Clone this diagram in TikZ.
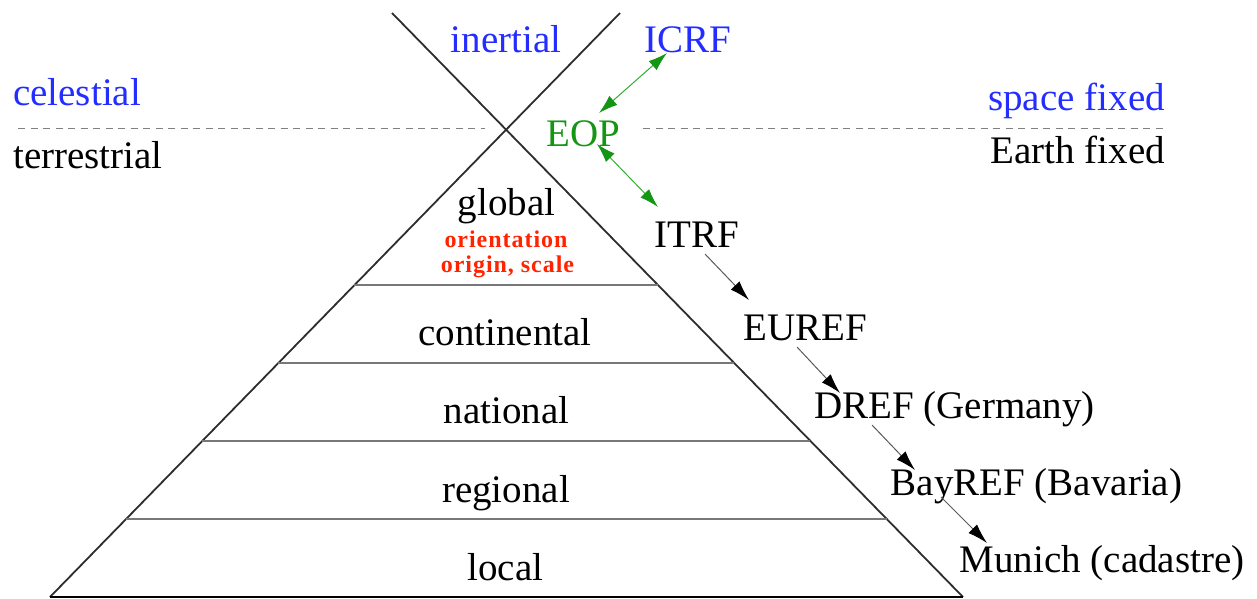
\documentclass[tikz,border=0pt]{standalone}
\usepackage{fontspec}
\setmainfont{Liberation Serif}
\newfontfamily\redfont[LetterSpace=4]{Liberation Serif}
\usetikzlibrary{arrows.meta,calc}
\definecolor{blueT}{RGB}{35,45,255}
\definecolor{greenT}{RGB}{20,150,20}
\definecolor{greenA}{RGB}{50,175,50}
\definecolor{redT}{RGB}{255,35,0}
\definecolor{edge}{RGB}{45,45,45}
\definecolor{divider}{RGB}{120,120,120}
\begin{document}
\begin{tikzpicture}[x=1pt,y=-1pt,
  lbl/.style={anchor=base,inner sep=0pt,font=\fontsize{39}{47}\selectfont},
  bluelbl/.style={lbl,text=blueT},
  redlbl/.style={anchor=base,inner sep=0pt,text=redT,font=\fontsize{24}{27}\redfont\bfseries},
  pedge/.style={draw=edge,line width=1.8pt},
  divline/.style={draw=divider,line width=1.3pt},
  sepline/.style={draw=gray,line width=0.9pt,dash pattern=on 7pt off 5.5pt},
  blkarrow/.style={draw=black!65,line width=1pt,-{Latex[length=20pt,width=12pt,black]}},
  grnarrow/.style={draw=greenA,line width=1pt,{Latex[length=19pt,width=12pt,greenT]}-{Latex[length=19pt,width=12pt,greenT]}}]
\useasboundingbox (0,0) rectangle (1257,598);
% pyramid / cross lines
\coordinate (tl) at (392,13);
\coordinate (tr) at (620,13);
\coordinate (bl) at (50,597);
\coordinate (br) at (963,597);
\draw[pedge] (tr) -- (bl);
\draw[pedge] (tl) -- (br);
\draw[draw=black,line width=2pt] (bl) -- (br);
\draw[divline] ($(tr)!0.4658!(bl)$) -- ($(tl)!0.4658!(br)$);
\draw[divline] ($(tr)!0.5993!(bl)$) -- ($(tl)!0.5993!(br)$);
\draw[divline] ($(tr)!0.7329!(bl)$) -- ($(tl)!0.7329!(br)$);
\draw[divline] ($(tr)!0.8664!(bl)$) -- ($(tl)!0.8664!(br)$);
% dashed separation
\draw[sepline] (18,128) -- (485,128);
\draw[sepline] (643,128) -- (1163,128);
% labels
\node[bluelbl] (inertial) at (506,52) {inertial};
\node[bluelbl] (ICRF) at (688,52) {ICRF};
\node[bluelbl,anchor=base west] (celestial) at (13,105) {celestial};
\node[lbl,anchor=base west] (terrestrial) at (13,168) {terrestrial};
\node[bluelbl,anchor=base east] (spacefixed) at (1165,110) {space fixed};
\node[lbl,anchor=base east] (earthfixed) at (1165,163) {Earth fixed};
\node[lbl,text=greenT] (EOP) at (583.5,146) {EOP};
\node[lbl] (global) at (506.5,215) {global};
\node[redlbl] (orient) at (506,247) {orientation};
\node[redlbl] (origin) at (507.5,272) {origin, scale};
\node[lbl] (continental) at (505,345) {continental};
\node[lbl] (national) at (506.5,423) {national};
\node[lbl] (regional) at (506,502) {regional};
\node[lbl] (local) at (505.5,580) {local};
\node[lbl] (ITRF) at (696.5,247) {ITRF};
\node[lbl] (EUREF) at (805.5,340) {EUREF};
\node[lbl] (DREF) at (954.5,418) {DREF (Germany)};
\node[lbl] (BayREF) at (1036.5,495) {BayREF (Bavaria)};
\node[lbl] (Munich) at (1102,572) {Munich (cadastre)};
% connectors
\draw[grnarrow] ($(EOP.base)+(15.5,-33)$) -- ($(ICRF.base)+(-21,1)$);
\draw[grnarrow] ($(EOP.base)+(13.5,-2)$) -- ($(ITRF.base)+(-38.5,-40)$);
\draw[blkarrow] ($(ITRF.base)+(8.5,7)$) -- ($(EUREF.base)+(-56.5,-40)$);
\draw[blkarrow] ($(EUREF.base)+(-8.5,7)$) -- ($(DREF.base)+(-114.5,-25)$);
\draw[blkarrow] ($(DREF.base)+(-82.5,7)$) -- ($(BayREF.base)+(-121.5,-25)$);
\draw[blkarrow] ($(BayREF.base)+(-95.5,2)$) -- ($(Munich.base)+(-115,-29)$);
\end{tikzpicture}
\end{document}
